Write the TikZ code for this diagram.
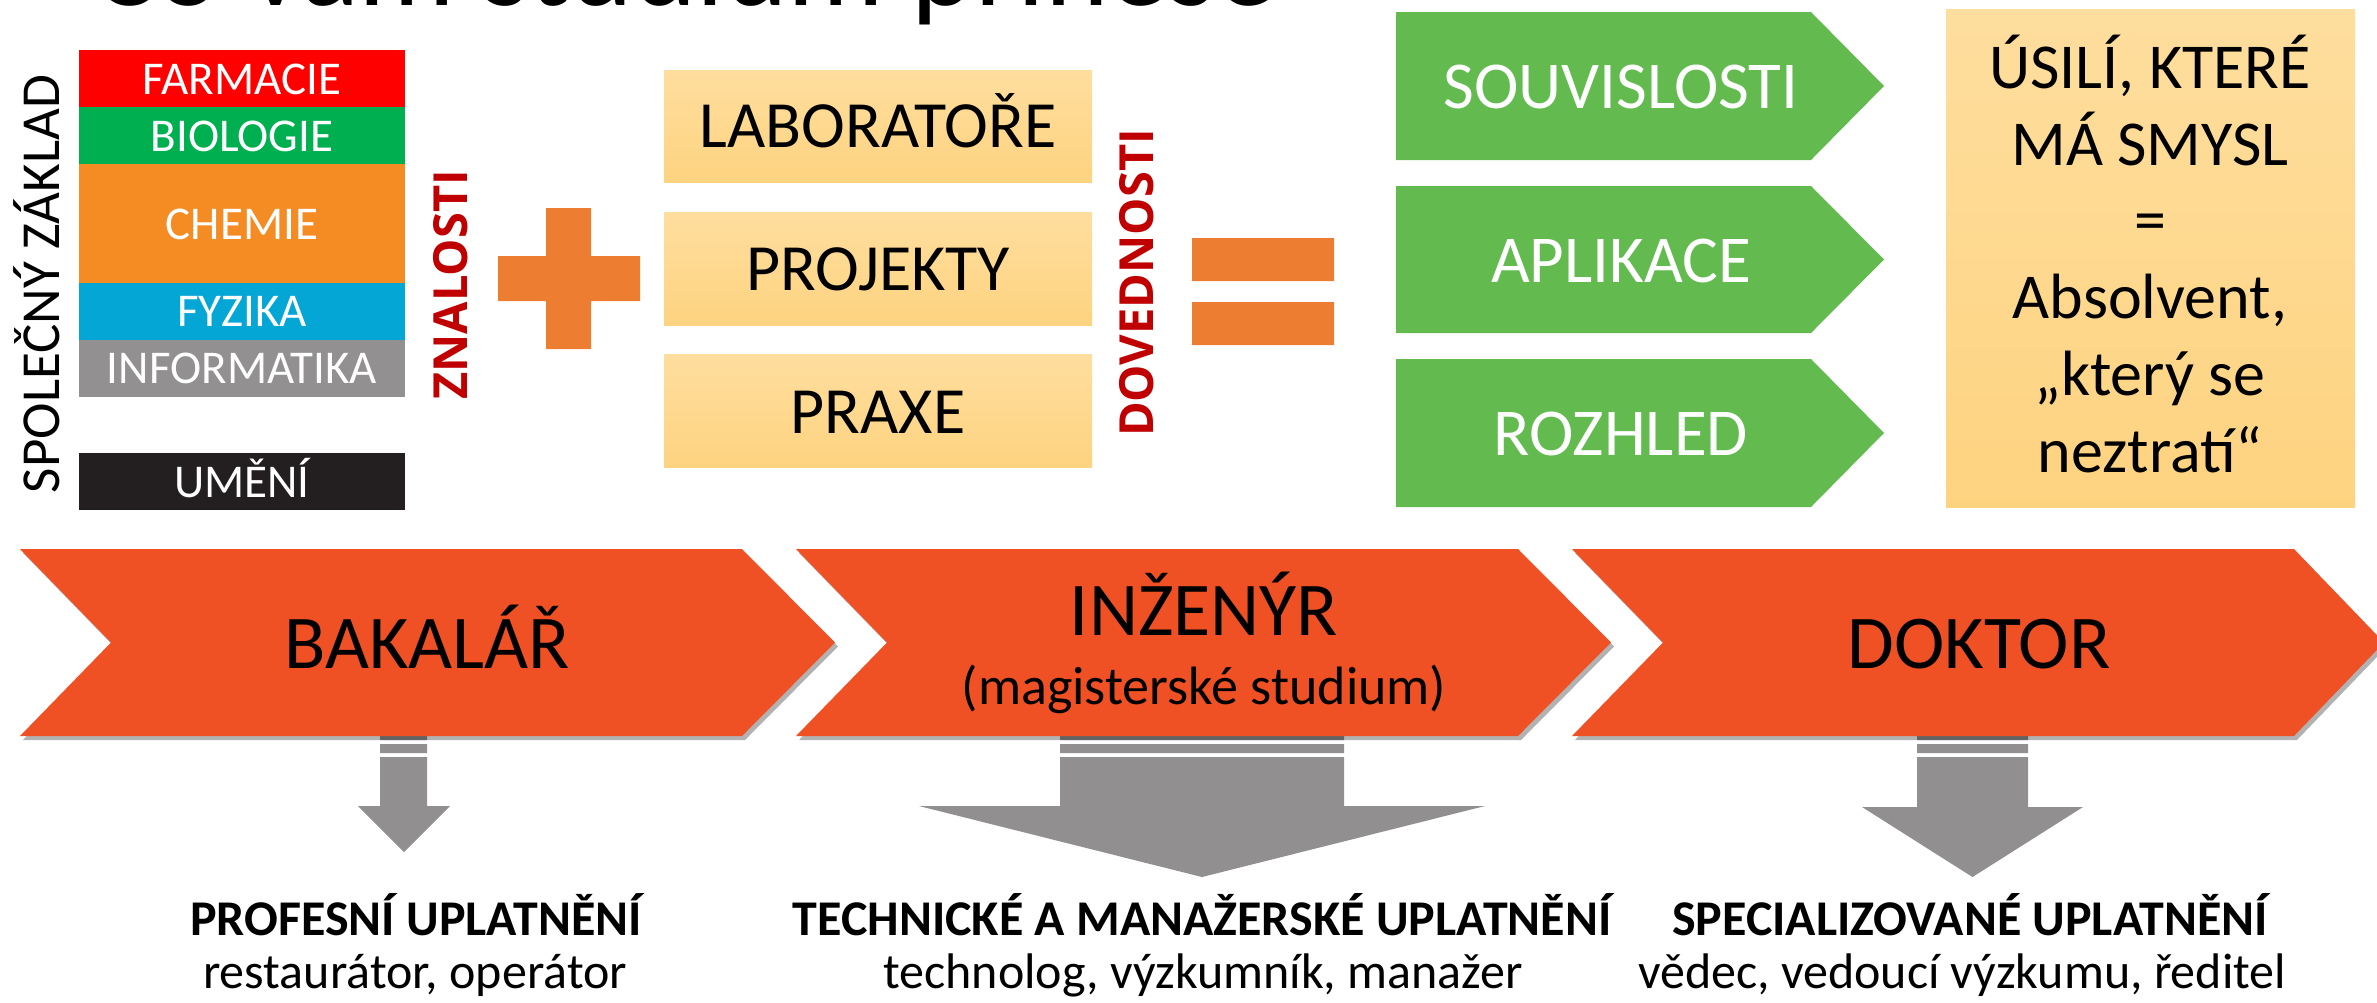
\documentclass[tikz,border=0pt]{standalone}
\usepackage{fontspec}
\setmainfont{Carlito}
\newfontfamily\opensans{Open Sans}
\usetikzlibrary{shadows}
\definecolor{chev}{RGB}{240,81,36}
\definecolor{grn}{RGB}{99,187,80}
\definecolor{accent}{RGB}{237,125,49}
\definecolor{dred}{RGB}{192,0,0}
\definecolor{ltop}{RGB}{254,222,158}
\definecolor{lbot}{RGB}{254,211,128}
\definecolor{arrgray}{RGB}{145,143,144}
\definecolor{sFarm}{RGB}{255,0,0}
\definecolor{sBio}{RGB}{0,176,80}
\definecolor{sChem}{RGB}{245,139,35}
\definecolor{sFyz}{RGB}{4,166,214}
\definecolor{sInf}{RGB}{146,144,145}
\definecolor{sUm}{RGB}{35,31,32}
\tikzset{
  subj/.style={anchor=base, inner sep=0pt, text=white, font=\fontsize{23.5pt}{28pt}\selectfont},
  vlabel/.style={anchor=base, inner sep=0pt, rotate=90},
  boxtxt/.style={anchor=base, inner sep=0pt, font=\fontsize{33pt}{40pt}\selectfont},
  grntxt/.style={anchor=base, inner sep=0pt, text=white, font=\fontsize{33.5pt}{40pt}\selectfont},
  goaltxt/.style={anchor=base, inner sep=0pt, font=\fontsize{32pt}{38pt}\selectfont},
  chevtxt/.style={anchor=base, inner sep=0pt, font=\fontsize{38pt}{45pt}\selectfont},
  subtxt/.style={anchor=base, inner sep=0pt, font=\fontsize{27pt}{32pt}\selectfont},
  outbold/.style={anchor=base, inner sep=0pt, font=\fontsize{25pt}{30pt}\selectfont\bfseries},
  outreg/.style={anchor=base, inner sep=0pt, font=\fontsize{25pt}{30pt}\selectfont},
  lightbox/.style={top color=ltop, bottom color=lbot},
  chevshape/.style={fill=chev, drop shadow={shadow xshift=1.5pt, shadow yshift=-2pt, opacity=0.3, fill=black}},
}
\begin{document}
\begin{tikzpicture}[x=0.5pt,y=-0.5pt]
\useasboundingbox (0,0) rectangle (2377,1002);
% title (cut off at the top)
\begin{scope}
\clip (0,0) rectangle (2377,1002);
\node[anchor=base west, inner sep=0pt, font=\fontsize{60.5pt}{62pt}\selectfont] (title) at (92,5) {Co vám studium přinese};
\end{scope}
% subject bars
\fill[sFarm] (79,50) rectangle (405,107);
\fill[sBio] (79,107) rectangle (405,164);
\fill[sChem] (79,164) rectangle (405,283);
\fill[sFyz] (79,283) rectangle (405,340);
\fill[sInf] (79,340) rectangle (405,397);
\fill[sUm] (79,453) rectangle (405,510);
\node[subj] (farm) at (242,94) {FARMACIE};
\node[subj] (bio) at (242,151) {BIOLOGIE};
\node[subj] (chem) at (242,239) {CHEMIE};
\node[subj] (fyz) at (242,326) {FYZIKA};
\node[subj] (inf) at (242,383) {INFORMATIKA};
\node[subj] (umeni) at (242,497) {UMĚNÍ};
\node[vlabel, font=\fontsize{27.5pt}{30pt}\selectfont] (zaklad) at (59,284) {SPOLEČNÝ ZÁKLAD};
\node[vlabel, text=dred, font=\fontsize{23.5pt}{28pt}\opensans\bfseries] (znalosti) at (467,285) {ZNALOSTI};
% plus
\fill[accent] (498,256) rectangle (640,301) (546,208) rectangle (591,349);
% skills boxes
\shade[lightbox] (664,70) rectangle (1092,182);
\shade[lightbox] (664,212) rectangle (1092,325);
\shade[lightbox] (664,354) rectangle (1092,467);
\node[boxtxt] (lab) at (878,147) {LABORATOŘE};
\node[boxtxt] (proj) at (878,290) {PROJEKTY};
\node[boxtxt] (praxe) at (878,433) {PRAXE};
\node[vlabel, text=dred, font=\fontsize{23.5pt}{28pt}\opensans\bfseries] (doved) at (1153,283) {DOVEDNOSTI};
% equals
\fill[accent] (1192,238) rectangle (1334,281) (1192,302) rectangle (1334,345);
% green arrows
\fill[grn] (1396,12) -- (1811,12) -- (1884,86) -- (1811,160) -- (1396,160) -- cycle;
\fill[grn] (1396,186) -- (1811,186) -- (1884,259.5) -- (1811,333) -- (1396,333) -- cycle;
\fill[grn] (1396,359) -- (1811,359) -- (1884,433) -- (1811,507) -- (1396,507) -- cycle;
\node[grntxt] (souv) at (1621,108) {SOUVISLOSTI};
\node[grntxt] (apl) at (1621,282) {APLIKACE};
\node[grntxt] (rozh) at (1621,455) {ROZHLED};
% goal box
\shade[lightbox] (1946,9) rectangle (2355,507);
\node[goaltxt] (g1) at (2150,88) {ÚSILÍ, KTERÉ};
\node[goaltxt] (g2) at (2150,165) {MÁ SMYSL};
\node[goaltxt] (g3) at (2150,241) {=};
\node[goaltxt] (g4) at (2150,318) {Absolvent,};
\node[goaltxt] (g5) at (2150,395) {„který se};
\node[goaltxt] (g6) at (2150,472) {neztratí“};
% grey down arrows with stripes
\fill[arrgray] (380,728) rectangle (427,740) (380,744) rectangle (427,753);
\fill[arrgray] (380,757) -- (427,757) -- (427,806) -- (450,806) -- (404,852) -- (358,806) -- (380,806) -- cycle;
\fill[arrgray] (1060,728) rectangle (1344,740) (1060,744) rectangle (1344,753);
\fill[arrgray] (1060,757) -- (1344,757) -- (1344,806) -- (1485,806) -- (1202,877) -- (919,806) -- (1060,806) -- cycle;
\fill[arrgray] (1917,728) rectangle (2028,740) (1917,744) rectangle (2028,753);
\fill[arrgray] (1917,757) -- (2028,757) -- (2028,807) -- (2083,807) -- (1972.5,877) -- (1862,807) -- (1917,807) -- cycle;
% chevrons
\path[chevshape] (20,549) -- (742,549) -- (835,642.5) -- (742,736) -- (20,736) -- (111,642.5) -- cycle;
\path[chevshape] (796,549) -- (1518,549) -- (1611,642.5) -- (1518,736) -- (796,736) -- (887,642.5) -- cycle;
\path[chevshape] (1572,549) -- (2294,549) -- (2384,642.5) -- (2294,736) -- (1572,736) -- (1663,642.5) -- cycle;
\node[chevtxt] (bak) at (427,668) {BAKALÁŘ};
\node[chevtxt] (ing) at (1204,635) {INŽENÝR};
\node[subtxt] (mag) at (1204,704) {(magisterské studium)};
\node[chevtxt] (dok) at (1979,668) {DOKTOR};
% outcomes
\node[outbold] (o1) at (416,935) {PROFESNÍ UPLATNĚNÍ};
\node[outreg] (o1b) at (415,988) {restaurátor, operátor};
\node[outbold] (o2) at (1202,935) {TECHNICKÉ A MANAŽERSKÉ UPLATNĚNÍ};
\node[outreg] (o2b) at (1203,988) {technolog, výzkumník, manažer};
\node[outbold] (o3) at (1970,935) {SPECIALIZOVANÉ UPLATNĚNÍ};
\node[outreg] (o3b) at (1962,988) {vědec, vedoucí výzkumu, ředitel};
\end{tikzpicture}
\end{document}
